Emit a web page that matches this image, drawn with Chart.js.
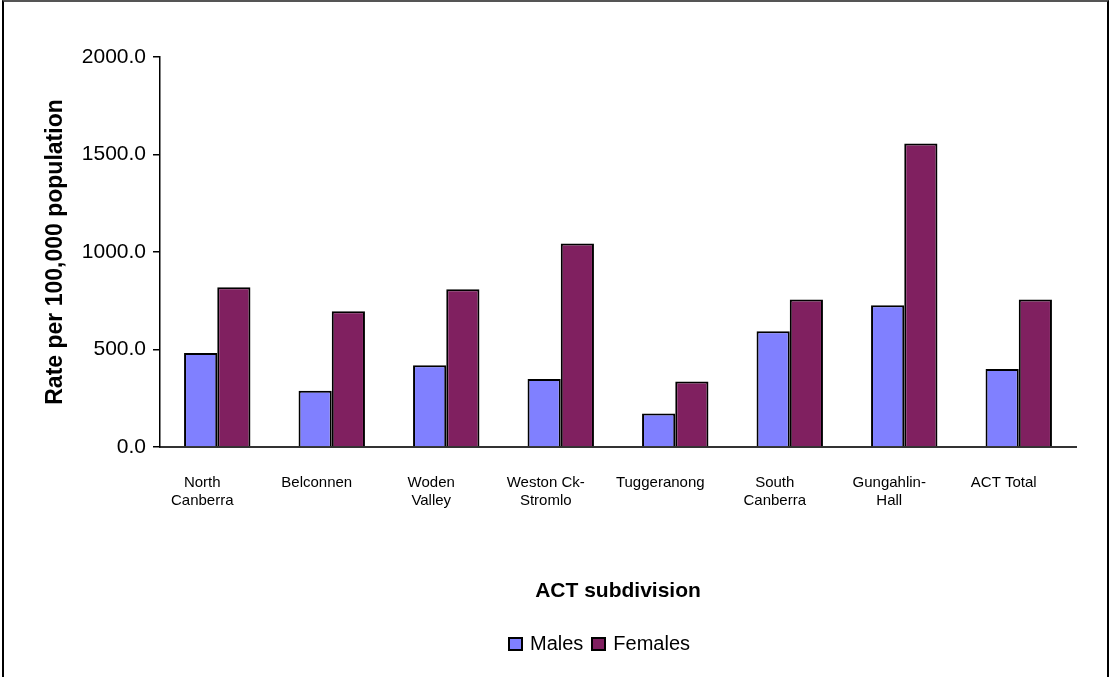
<!DOCTYPE html>
<html>
<head>
<meta charset="utf-8">
<title>Rate per 100,000 population by ACT subdivision</title>
<script src="https://cdn.jsdelivr.net/npm/chart.js@4.4.1/dist/chart.umd.min.js"></script>
<style>
  html, body { margin: 0; padding: 0; background: #fff; }
  body { width: 1111px; height: 677px; position: relative; overflow: hidden; font-family: "Liberation Sans", Arial, sans-serif; }
  #frame {
    position: absolute; left: 2px; top: 0; width: 1107px; height: 700px;
    box-sizing: border-box;
    border-left: 2px solid #000; border-right: 2px solid #000; border-top: 2px solid #555;
  }
  #rateChart { position: absolute; left: 0; top: 0; }
  #legend {
    position: absolute; left: 508px; top: 632px;
    display: flex; align-items: center; font-size: 20px; color: #000;
  }
  #legend .item { display: flex; align-items: center; margin-right: 8px; }
  #legend .box { width: 11px; height: 10px; border: 2px solid #000; margin-right: 7px; }
</style>
</head>
<body>
<div id="frame"></div>
<canvas id="rateChart" width="1111" height="677"></canvas>
<div id="legend"></div>
<script>
const subdivisions = [
  ["North", "Canberra"],
  "Belconnen",
  ["Woden", "Valley"],
  ["Weston Ck-", "Stromlo"],
  "Tuggeranong",
  ["South", "Canberra"],
  ["Gungahlin-", "Hall"],
  "ACT Total"
];
const males = [482, 288, 419, 349, 172, 593, 727, 400];
const females = [819, 696, 809, 1044, 336, 756, 1557, 757];
const yTicks = [0, 500, 1000, 1500, 2000];

const FONT = "'Liberation Sans', Arial, sans-serif";

const ctx = document.getElementById("rateChart").getContext("2d");

const chart = new Chart(ctx, {
  type: "bar",
  data: {
    labels: subdivisions,
    datasets: [
      {
        label: "Males",
        data: males,
        backgroundColor: "#8080FF",
        borderColor: "#000",
        borderWidth: 2,
        categoryPercentage: 0.58,
        barPercentage: 1.0
      },
      {
        label: "Females",
        data: females,
        backgroundColor: "#802060",
        borderColor: "#000",
        borderWidth: 2,
        categoryPercentage: 0.58,
        barPercentage: 1.0
      }
    ]
  },
  options: {
    responsive: false,
    animation: false,
    layout: {
      padding: { left: 38, top: 57, right: 35, bottom: 69 }
    },
    plugins: {
      legend: { display: false },
      tooltip: { enabled: false }
    },
    scales: {
      x: {
        grid: { display: false, drawTicks: false },
        border: { display: true, color: "#333", width: 2 },
        ticks: {
          color: "#000",
          padding: 27,
          labelOffset: -15,
          maxRotation: 0,
          autoSkip: false,
          font: { family: FONT, size: 15 }
        },
        title: {
          display: true,
          text: "ACT subdivision",
          color: "#000",
          font: { family: FONT, size: 21, weight: "bold" }
        },
        afterFit: scale => { scale.height = 161; }
      },
      y: {
        min: yTicks[0],
        max: yTicks[yTicks.length - 1],
        afterBuildTicks: scale => {
          scale.ticks = yTicks.map(v => ({ value: v }));
        },
        grid: {
          drawOnChartArea: false,
          drawTicks: true,
          tickLength: 7,
          color: "#000",
          lineWidth: 1.5
        },
        border: { display: true, color: "#000", width: 1.5 },
        ticks: {
          color: "#000",
          padding: 7,
          font: { family: FONT, size: 21 },
          callback: v => Number(v).toFixed(1)
        },
        title: {
          display: true,
          text: "Rate per 100,000 population",
          color: "#000",
          font: { family: FONT, size: 23, weight: "bold" }
        },
        afterFit: scale => { scale.width = 122; }
      }
    }
  }
});

// legend built from the chart's own datasets
const legendEl = document.getElementById("legend");
chart.data.datasets.forEach(ds => {
  const item = document.createElement("div");
  item.className = "item";
  const box = document.createElement("span");
  box.className = "box";
  box.style.background = ds.backgroundColor;
  item.appendChild(box);
  item.appendChild(document.createTextNode(ds.label));
  legendEl.appendChild(item);
});
</script>
</body>
</html>
